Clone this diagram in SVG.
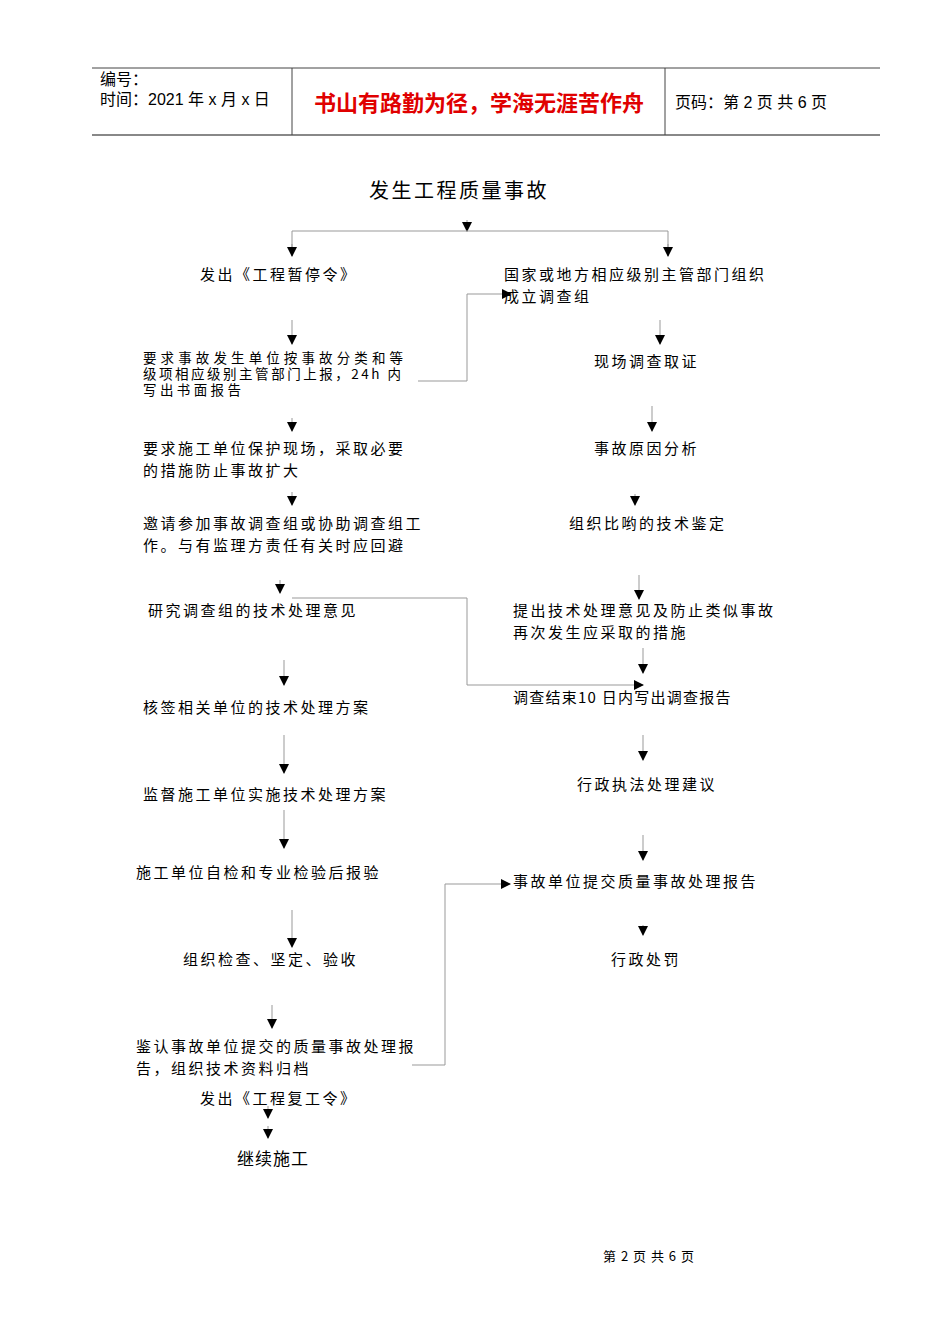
<svg xmlns="http://www.w3.org/2000/svg" width="950" height="1344" viewBox="0 0 950 1344">
<style>
text{font-family:"Noto Sans CJK SC","Liberation Serif",serif;font-size:15px;fill:#000;letter-spacing:2.5px}
.h{font-family:"Liberation Sans","Noto Sans CJK SC",sans-serif;font-size:16px;letter-spacing:0}
.s{font-size:13.5px;letter-spacing:0}
.c{stroke:#999;stroke-width:1;fill:none}
.a{stroke:#999;stroke-width:1;fill:none;marker-end:url(#m)}
</style>
<defs><marker id="m" markerWidth="10" markerHeight="10" refX="9" refY="5" orient="auto" markerUnits="userSpaceOnUse"><path d="M0,0 L10,5 L0,10 Z" fill="#000"/></marker></defs>
<g id="header">
<line x1="92" y1="68" x2="880" y2="68" stroke="#444"/>
<line x1="92" y1="135" x2="880" y2="135" stroke="#888" stroke-width="2"/>
<line x1="292" y1="68" x2="292" y2="135" stroke="#444"/>
<line x1="665" y1="68" x2="665" y2="135" stroke="#444"/>
<text class="h" x="100" y="85">编号：</text>
<text class="h" x="100" y="105">时间：2021 年 x 月 x 日</text>
<text x="479" y="111" text-anchor="middle" style="font-size:22px;letter-spacing:0;font-weight:bold;fill:#e00000;font-family:'Noto Sans CJK SC',sans-serif">书山有路勤为径，学海无涯苦作舟</text>
<text class="h" x="675" y="108">页码：第 2 页  共 6 页</text>
</g>
<g id="connectors">
<line class="a" x1="467" y1="220" x2="467" y2="231"/>
<polyline class="c" points="292,256 292,231 668,231 668,256"/>
<line class="a" x1="292" y1="244" x2="292" y2="256"/>
<line class="a" x1="668" y1="244" x2="668" y2="256"/>
<polyline class="a" points="418,381 467,381 467,294 511,294"/>
<line class="a" x1="292" y1="320" x2="292" y2="344"/>
<line class="a" x1="660" y1="320" x2="660" y2="344"/>
<line class="a" x1="292" y1="418" x2="292" y2="431"/>
<line class="a" x1="652" y1="406" x2="652" y2="431"/>
<line class="a" x1="292" y1="492" x2="292" y2="505"/>
<line class="a" x1="635" y1="494" x2="635" y2="505"/>
<line class="a" x1="280" y1="580" x2="280" y2="593"/>
<polyline class="a" points="292,598 467,598 467,685 643,685"/>
<line class="a" x1="639" y1="575" x2="639" y2="599"/>
<line class="a" x1="643" y1="648" x2="643" y2="673"/>
<line class="a" x1="284" y1="660" x2="284" y2="685"/>
<line class="a" x1="284" y1="735" x2="284" y2="773"/>
<line class="a" x1="643" y1="735" x2="643" y2="760"/>
<line class="a" x1="284" y1="810" x2="284" y2="848"/>
<line class="a" x1="643" y1="835" x2="643" y2="860"/>
<polyline class="a" points="412,1065 445,1065 445,884 510,884"/>
<line class="a" x1="292" y1="910" x2="292" y2="947"/>
<line class="a" x1="643" y1="925" x2="643" y2="935"/>
<line class="a" x1="272" y1="1005" x2="272" y2="1028"/>
<line class="a" x1="268" y1="1106" x2="268" y2="1118"/>
<line class="a" x1="268" y1="1126" x2="268" y2="1138"/>
</g>
<g id="n0"><text x="459" y="198" text-anchor="middle" style="font-size:20px">发生工程质量事故</text></g>
<g id="n1"><text x="200" y="280">发出《工程暂停令》</text></g>
<g id="n2"><text x="504" y="280">国家或地方相应级别主管部门组织</text><text x="504" y="302">成立调查组</text></g>
<g id="n3"><text class="s" x="143" y="363" textLength="260" lengthAdjust="spacing">要求事故发生单位按事故分类和等</text><text class="s" x="143" y="379" textLength="258" lengthAdjust="spacing">级项相应级别主管部门上报，24h 内</text><text class="s" x="143" y="395" textLength="98" lengthAdjust="spacing">写出书面报告</text></g>
<g id="n4"><text x="594" y="367">现场调查取证</text></g>
<g id="n5"><text x="143" y="454">要求施工单位保护现场，采取必要</text><text x="143" y="476">的措施防止事故扩大</text></g>
<g id="n6"><text x="594" y="454">事故原因分析</text></g>
<g id="n7"><text x="143" y="529">邀请参加事故调查组或协助调查组工</text><text x="143" y="551">作。与有监理方责任有关时应回避</text></g>
<g id="n8"><text x="569" y="529">组织比哟的技术鉴定</text></g>
<g id="n9"><text x="148" y="616">研究调查组的技术处理意见</text></g>
<g id="n10"><text x="513" y="616">提出技术处理意见及防止类似事故</text><text x="513" y="638">再次发生应采取的措施</text></g>
<g id="n11"><text x="513" y="703" textLength="220" lengthAdjust="spacing">调查结束10 日内写出调查报告</text></g>
<g id="n12"><text x="143" y="713">核签相关单位的技术处理方案</text></g>
<g id="n13"><text x="143" y="800">监督施工单位实施技术处理方案</text></g>
<g id="n14"><text x="577" y="790">行政执法处理建议</text></g>
<g id="n15"><text x="136" y="878">施工单位自检和专业检验后报验</text></g>
<g id="n16"><text x="513" y="887">事故单位提交质量事故处理报告</text></g>
<g id="n17"><text x="183" y="965">组织检查、坚定、验收</text></g>
<g id="n18"><text x="611" y="965">行政处罚</text></g>
<g id="n19"><text x="136" y="1052">鉴认事故单位提交的质量事故处理报</text><text x="136" y="1074">告，组织技术资料归档</text></g>
<g id="n20"><text x="200" y="1104">发出《工程复工令》</text></g>
<g id="n21"><text x="237" y="1165" style="font-size:17px;letter-spacing:1px">继续施工</text></g>
<g id="footer"><text x="603" y="1261" style="font-size:13px;letter-spacing:1px">第 2 页 共 6 页</text></g>
</svg>
